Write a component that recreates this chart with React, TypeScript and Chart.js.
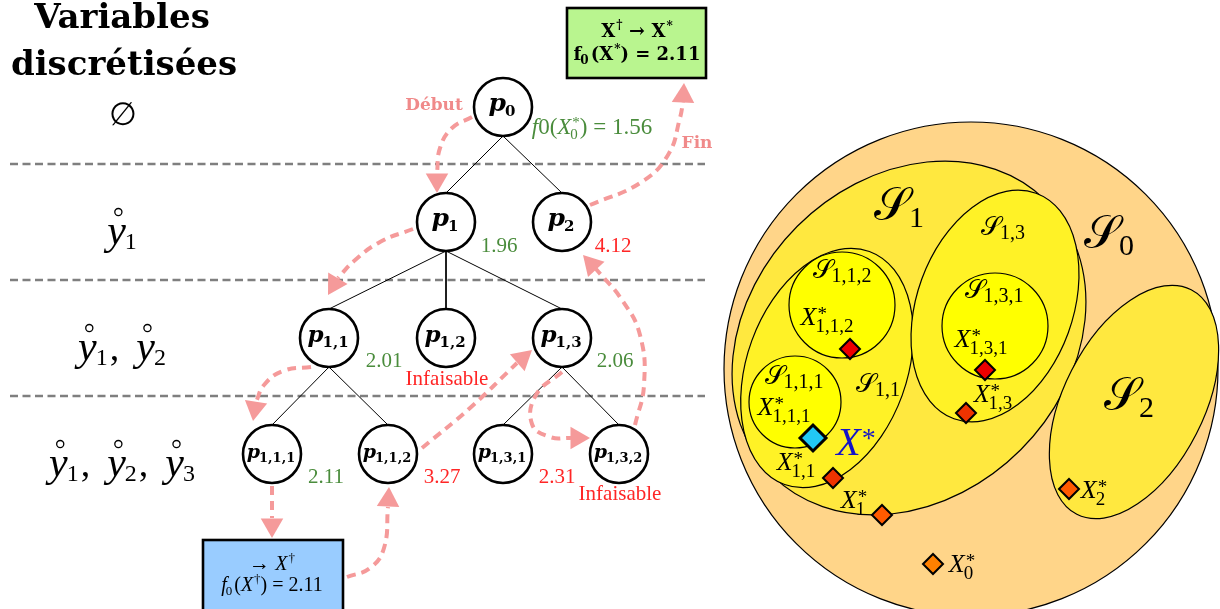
import React, { useEffect, useRef } from "react";
import { Chart, registerables } from "chart.js";

Chart.register(...registerables);

// ---------------- tree data ----------------
const nodeSubs = ["0", "1", "2", "1,1", "1,2", "1,3", "1,1,1", "1,1,2", "1,3,1", "1,3,2"];
const nodeX = [503, 446, 562, 329, 446, 562, 272, 388, 503, 619];
const nodeY = [107, 222, 222, 338, 338, 338, 454, 454, 454, 454];
const edgeFrom = [0, 0, 1, 1, 1, 3, 3, 5, 5];
const edgeTo = [1, 2, 3, 4, 5, 6, 7, 8, 9];

const levelLineY = [164, 280, 396];
const levelLineX = [10, 705];
const levelVars = [[], ["1"], ["1", "2"], ["1", "2", "3"]];
const levelLabelY = [125, 244, 360, 476];

const valueTexts = ["1.96", "4.12", "2.01", "Infaisable", "2.06", "2.11", "3.27", "2.31", "Infaisable"];
const valueOk = [true, false, true, false, true, true, false, false, false];
const valueX = [499, 613, 384, 447, 615, 326, 442, 557, 620];
const valueY = [252, 252, 367, 385, 367, 483, 483, 483, 500];

// arrows: last point is the arrow tip
const arrowDebutX = [472, 452, 440, 437, 437];
const arrowDebutY = [117, 128, 148, 173, 193];
const arrowP1X = [413, 380, 354, 338, 328];
const arrowP1Y = [229, 242, 261, 278, 295];
const arrowP11X = [311, 283, 264, 256, 253];
const arrowP11Y = [367, 371, 385, 402, 421];
const arrowP111X = [272, 272, 272];
const arrowP111Y = [486, 518, 538];
const arrowBoxX = [347, 370, 384, 388, 389];
const arrowBoxY = [577, 568, 548, 507, 487];
const arrowP112X = [422, 470, 517, 532];
const arrowP112Y = [448, 408, 363, 350];
const arrowP13X = [562, 536, 532, 550, 571, 590];
const arrowP13Y = [372, 395, 424, 437, 438, 438];
const arrowP132X = [635, 644, 640, 622, 596, 583];
const arrowP132Y = [425, 385, 335, 300, 269, 255];
const arrowFinX = [590, 640, 668, 680, 683, 684];
const arrowFinY = [205, 183, 155, 118, 102, 83];

// boxes
const boxLeft = [567, 203];
const boxTop = [8, 540];
const boxRight = [706, 343];
const boxBottom = [78, 622];

// ---------------- Venn data ----------------
const setCX = [971, 909, 1134, 827, 995, 842, 795, 995];
const setCY = [369, 338, 402, 368, 306, 305, 402, 326];
const setRX = [247, 194, 70, 80, 78, 53, 46, 53];
const setRY = [247, 158, 126, 124, 120, 53, 46, 53];
const setRot = [0, -45, 27, 20, 20, 0, 0, 0];

const setLabelSubs = ["1", "0", "2", "1,3", "1,1,2", "1,3,1", "1,1,1", "1,1"];
const setLabelX = [900, 1110, 1130, 1004, 843, 995, 795, 879];
const setLabelY = [220, 248, 410, 235, 278, 298, 384, 392];

const markerNames = ["X*1,1,2", "X*1,3,1", "X*1,3", "X*", "X*1,1", "X*1", "X*2", "X*0"];
const markerX = [850, 985, 966, 813, 833, 882, 1069, 933];
const markerY = [349, 370, 413, 438, 478, 515, 489, 564];

const pointLabelSubs = ["1,1,2", "1,3,1", "1,3", "1,1,1", "", "1,1", "1", "2", "0"];
const pointLabelX = [828, 982, 994, 785, 856, 797, 854, 1094, 962];
const pointLabelY = [325, 347, 402, 415, 455, 470, 508, 498, 572];

// ---------------- styles ----------------
const SERIF = "'Liberation Serif', 'DejaVu Serif', serif";
const DJ = "'DejaVu Serif', 'Liberation Serif', serif";
const it = (s: number) => `italic ${s}px ${SERIF}`;
const rm = (s: number) => `${s}px ${SERIF}`;
const bd = (s: number) => `bold ${s}px ${DJ}`;
const bi = (s: number) => `italic bold ${s}px ${DJ}`;
const cal = (s: number) => `${s}px 'DejaVu Serif', 'DejaVu Sans', 'Noto Sans', serif`;

const PINK = "#f59a9a";
const GREEN = "#4a8c3c";
const RED = "#ff2626";
const HEAD_R = 13;
const setFill = ["#ffd589", "#ffe83f", "#ffe83f", "#fff226", "#fff226", "#ffff00", "#ffff00", "#ffff00"];
const markerFill = ["#ee0000", "#ee0000", "#ee3300", "#22c8f5", "#ee3300", "#ff5a00", "#ff5a00", "#ff8000"];

type Run = {
  t: string;
  f: string;
  dy?: number;
  pad?: number;
  ring?: number;
  sup?: string;
  sub?: string;
  sf?: string;
  supDy?: number;
  subDy?: number;
};

function runWidth(ctx: CanvasRenderingContext2D, r: Run) {
  ctx.font = r.f;
  let w = ctx.measureText(r.t).width;
  if (r.sup || r.sub) {
    ctx.font = r.sf || r.f;
    const a = r.sup ? ctx.measureText(r.sup).width : 0;
    const b = r.sub ? ctx.measureText(r.sub).width : 0;
    w += Math.max(a, b) + 1;
  }
  return w + (r.pad || 0);
}

function drawRuns(ctx: CanvasRenderingContext2D, runs: Run[], x0: number, base: number, color: string, align = "center") {
  const total = runs.reduce((s, r) => s + runWidth(ctx, r), 0);
  let x = align === "center" ? x0 - total / 2 : align === "left" ? x0 : x0 - total;
  ctx.fillStyle = color;
  ctx.strokeStyle = color;
  ctx.textAlign = "left";
  ctx.textBaseline = "alphabetic";
  for (const r of runs) {
    ctx.font = r.f;
    ctx.fillText(r.t, x, base + (r.dy || 0));
    const w0 = ctx.measureText(r.t).width;
    if (r.ring) {
      ctx.beginPath();
      ctx.lineWidth = 1.3;
      ctx.arc(x + w0 * 0.6, base - r.ring * 0.76, r.ring * 0.085, 0, Math.PI * 2);
      ctx.stroke();
    }
    if (r.sup || r.sub) {
      ctx.font = r.sf || r.f;
      if (r.sup) ctx.fillText(r.sup, x + w0 + 1, base + (r.supDy || 0));
      if (r.sub) ctx.fillText(r.sub, x + w0 - 1, base + (r.subDy || 0));
    }
    x += runWidth(ctx, r);
  }
}

const diagramPlugin = {
  id: "diagram",
  beforeDatasetsDraw(chart: any) {
    const { ctx, scales } = chart;
    const X = (v: number) => scales.x.getPixelForValue(v);
    const Y = (v: number) => scales.y.getPixelForValue(v);
    ctx.save();
    setCX.forEach((cx, i) => {
      ctx.beginPath();
      ctx.ellipse(
        X(cx), Y(setCY[i]),
        Math.abs(X(cx + setRX[i]) - X(cx)),
        Math.abs(Y(setCY[i] + setRY[i]) - Y(setCY[i])),
        (setRot[i] * Math.PI) / 180, 0, Math.PI * 2
      );
      ctx.fillStyle = setFill[i];
      ctx.fill();
      ctx.lineWidth = 1.2;
      ctx.strokeStyle = "#000";
      ctx.stroke();
    });
    const boxFill = ["#b9f58f", "#99ccff"];
    boxLeft.forEach((l, i) => {
      const x1 = X(l), y1 = Y(boxTop[i]), x2 = X(boxRight[i]), y2 = Y(boxBottom[i]);
      ctx.fillStyle = boxFill[i];
      ctx.fillRect(x1, y1, x2 - x1, y2 - y1);
      ctx.lineWidth = 2.6;
      ctx.strokeStyle = "#000";
      ctx.strokeRect(x1, y1, x2 - x1, y2 - y1);
    });
    ctx.restore();
  },
  afterDatasetsDraw(chart: any) {
    const { ctx, scales } = chart;
    const X = (v: number) => scales.x.getPixelForValue(v);
    const Y = (v: number) => scales.y.getPixelForValue(v);
    ctx.save();
    // headings
    ctx.fillStyle = "#000";
    ctx.textAlign = "center";
    ctx.font = bd(34);
    ctx.fillText("Variables", X(122), Y(28));
    ctx.fillText("discrétisées", X(124), Y(75));
    // level labels
    levelVars.forEach((vars, i) => {
      if (vars.length === 0) {
        ctx.font = rm(32);
        ctx.textAlign = "center";
        ctx.fillStyle = "#000";
        ctx.fillText("∅", X(123), Y(levelLabelY[i]));
        return;
      }
      const runs: Run[] = [];
      vars.forEach((v, k) => {
        runs.push({ t: "y", f: it(42), ring: 42, sub: v, sf: rm(24), subDy: 5 });
        if (k < vars.length - 1) runs.push({ t: ",", f: rm(38), pad: 17 });
      });
      drawRuns(ctx, runs, X(123), Y(levelLabelY[i]), "#000");
    });
    // node labels
    nodeSubs.forEach((s, i) => {
      const lvl = s.length;
      const pf = lvl === 1 ? 25 : lvl === 3 ? 23 : 19;
      const sf = lvl === 5 ? 13 : 15;
      drawRuns(ctx, [{ t: "p", f: bi(pf), sub: s, sf: bd(sf), subDy: lvl === 5 ? 4 : 5 }], X(nodeX[i]), Y(nodeY[i]) + 4, "#000");
    });
    // values
    valueTexts.forEach((t, i) => {
      ctx.font = rm(21);
      ctx.textAlign = "center";
      ctx.fillStyle = valueOk[i] ? GREEN : RED;
      ctx.fillText(t, X(valueX[i]), Y(valueY[i]));
    });
    drawRuns(ctx, [
      { t: "f", f: it(23) },
      { t: "0(", f: rm(23) },
      { t: "X", f: it(23), sup: "*", sub: "0", sf: rm(15), supDy: -7, subDy: 5 },
      { t: ") = 1.56", f: rm(23) },
    ], X(592), Y(134), GREEN);
    ctx.font = bd(17);
    ctx.textAlign = "center";
    ctx.fillStyle = "#f08a8a";
    ctx.fillText("Début", X(434), Y(110));
    ctx.fillText("Fin", X(697), Y(148));
    // boxes text
    drawRuns(ctx, [
      { t: "X", f: bd(18), sup: "†", sf: bd(12), supDy: -8 },
      { t: " → ", f: bd(19) },
      { t: "X", f: bd(18), sup: "*", sf: bd(12), supDy: -7 },
    ], X(637), Y(37), "#000");
    drawRuns(ctx, [
      { t: "f", f: bd(18), sub: "0", sf: bd(12), subDy: 4 },
      { t: "(X", f: bd(18), sup: "*", sf: bd(12), supDy: -7 },
      { t: ") = 2.11", f: bd(18) },
    ], X(637), Y(60), "#000");
    drawRuns(ctx, [
      { t: "→ ", f: rm(21) },
      { t: "X", f: it(20), sup: "†", sf: rm(13), supDy: -8 },
    ], X(272), Y(570), "#000");
    drawRuns(ctx, [
      { t: "f", f: it(20), sub: "0", sf: rm(13), subDy: 4 },
      { t: "(", f: rm(20) },
      { t: "X", f: it(20), sup: "†", sf: rm(13), supDy: -8 },
      { t: ") = 2.11", f: rm(20) },
    ], X(272), Y(591), "#000");
    // Venn labels
    setLabelSubs.forEach((s, i) => {
      const big = s.length === 1;
      drawRuns(ctx, [{ t: "𝒮", f: cal(big ? 46 : 26), sub: s, sf: rm(big ? 30 : 20), subDy: big ? 7 : 4 }],
        X(setLabelX[i]), Y(setLabelY[i]), "#000");
    });
    pointLabelSubs.forEach((s, i) => {
      if (s === "") {
        drawRuns(ctx, [{ t: "X", f: it(40), sup: "*", sf: rm(28), supDy: -8 }], X(pointLabelX[i]), Y(pointLabelY[i]), "#1414c8");
      } else {
        drawRuns(ctx, [{ t: "X", f: it(26), sup: "*", sub: s, sf: rm(19), supDy: -5, subDy: 7 }], X(pointLabelX[i]), Y(pointLabelY[i]), "#000");
      }
    });
    ctx.restore();
  },
};

export default function App() {
  const ref = useRef<HTMLCanvasElement>(null);
  useEffect(() => {
    document.body.style.margin = "0";
    const canvas = ref.current!;
    const R = 29;
    const datasets: any[] = [];
    levelLineY.forEach((ly) =>
      datasets.push({
        type: "line",
        data: [{ x: levelLineX[0], y: ly }, { x: levelLineX[1], y: ly }],
        borderColor: "#7f7f7f", borderWidth: 2.6, borderDash: [8, 4.5],
        pointRadius: 0, order: 60, clip: false,
      })
    );
    edgeFrom.forEach((f, i) => {
      const t = edgeTo[i];
      datasets.push({
        type: "line",
        data: [{ x: nodeX[f], y: nodeY[f] + R }, { x: nodeX[t], y: nodeY[t] - R }],
        borderColor: "#000", borderWidth: 1, pointRadius: 0, order: 50, clip: false,
      });
    });
    datasets.push({
      type: "scatter",
      data: nodeX.map((x, i) => ({ x, y: nodeY[i] })),
      pointRadius: R, pointBackgroundColor: "#fff", pointBorderColor: "#000",
      pointBorderWidth: 2.6, order: 40, clip: false,
    });
    const arrows: number[][][] = [
      [arrowDebutX, arrowDebutY], [arrowP1X, arrowP1Y], [arrowP11X, arrowP11Y],
      [arrowP111X, arrowP111Y], [arrowBoxX, arrowBoxY], [arrowP112X, arrowP112Y],
      [arrowP13X, arrowP13Y], [arrowP132X, arrowP132Y], [arrowFinX, arrowFinY],
    ];
    const heads: any[] = [];
    const rots: number[] = [];
    arrows.forEach(([ax, ay]) => {
      const n = ax.length;
      datasets.push({
        type: "line",
        data: ax.slice(0, n - 1).map((x, i) => ({ x, y: ay[i] })),
        borderColor: PINK, borderWidth: 4, borderDash: [9, 6], tension: 0.45,
        pointRadius: 0, order: 30, clip: false,
      });
      const dx = ax[n - 1] - ax[n - 2];
      const dy = ay[n - 1] - ay[n - 2];
      const L = Math.hypot(dx, dy);
      heads.push({ x: ax[n - 1] - (dx / L) * HEAD_R, y: ay[n - 1] - (dy / L) * HEAD_R });
      rots.push((Math.atan2(dx, -dy) * 180) / Math.PI);
    });
    datasets.push({
      type: "scatter", data: heads, pointStyle: "triangle", pointRadius: HEAD_R,
      pointRotation: rots, pointBackgroundColor: PINK, pointBorderWidth: 0,
      order: 20, clip: false,
    });
    datasets.push({
      type: "scatter",
      data: markerX.map((x, i) => ({ x, y: markerY[i] })),
      pointStyle: "rectRot",
      pointRadius: markerNames.map((n) => (n === "X*" ? 13 : 10)),
      pointBackgroundColor: markerFill, pointBorderColor: "#000",
      pointBorderWidth: markerNames.map((n) => (n === "X*" ? 3 : 2)),
      order: 10, clip: false,
    });

    const chart = new Chart(canvas, {
      type: "scatter",
      data: { datasets },
      options: {
        animation: false,
        responsive: false,
        events: [],
        layout: { padding: 0, autoPadding: false },
        plugins: { legend: { display: false }, tooltip: { enabled: false } },
        scales: {
          x: { type: "linear", min: 0, max: 1220, display: false },
          y: { type: "linear", min: 0, max: 609, reverse: true, display: false },
        },
      },
      plugins: [diagramPlugin],
    } as any);
    return () => chart.destroy();
  }, []);
  return (
    <div style={{ width: 1220, height: 609 }}>
      <canvas ref={ref} width={1220} height={609} style={{ display: "block" }} />
    </div>
  );
}
